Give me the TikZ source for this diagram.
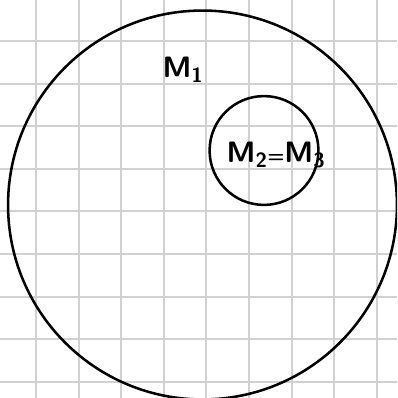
\documentclass[tikz,border=0pt]{standalone}
\usepackage{amsmath,amssymb}
\usepackage{tikz}
\usetikzlibrary{positioning}

\begin{document}
\begin{tikzpicture}[
    x=0.025cm, y=-0.025cm,
    grd/.style={draw=black!18, line width=1.4pt},
    ring/.style={draw, circle, inner sep=0pt, line width=1.8pt},
    lbl/.style={inner sep=1pt, font=\sffamily\bfseries\fontsize{21}{25}\selectfont}
]
\useasboundingbox (0,0) rectangle (397,398);
\clip (0,0) rectangle (397,398);
\fill[white] (0,0) rectangle (397,398);

% Kariertes Papier
\foreach \i in {0,...,8} {
    \draw[grd] (36+42.6*\i,0) -- (36+42.6*\i,398);
    \draw[grd] (0,41+42.6*\i) -- (397,41+42.6*\i);
}

\node[ring, minimum size=9.72cm] (m1) at (202.5,205) {};
\node[ring, minimum size=2.72cm] (m2) at (264,150.5) {};

\node[lbl] (l1) at (183,70) {M\textsubscript{1}};
\node[lbl] (l2) at (276,155) {M\textsubscript{2}{\fontsize{14}{14}\selectfont=}M\textsubscript{3}};
\end{tikzpicture}
\end{document}
